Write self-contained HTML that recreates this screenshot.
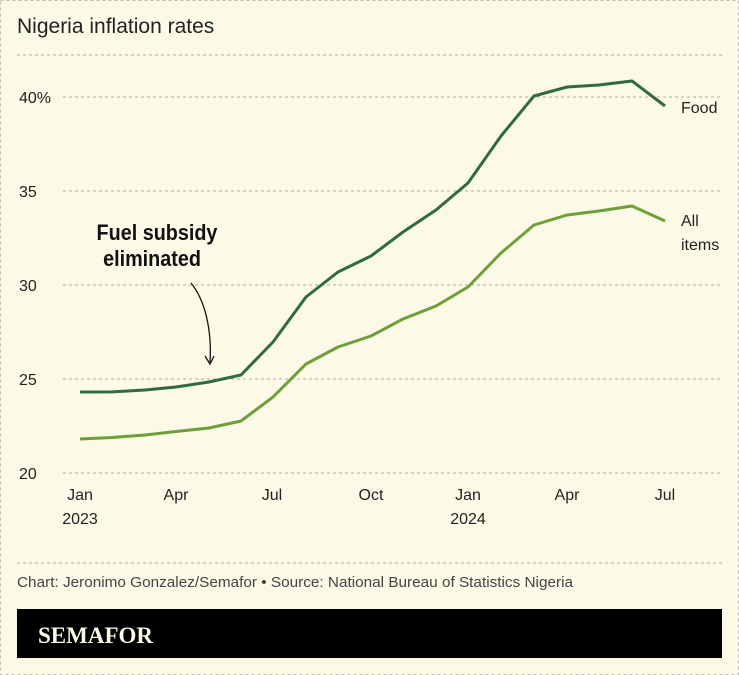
<!DOCTYPE html>
<html><head><meta charset="utf-8"><style>
body{margin:0;background:#fcf9e6;}
svg{display:block;font-family:"Liberation Sans",sans-serif;}
</style></head><body>
<svg width="739" height="675" viewBox="0 0 739 675" xmlns="http://www.w3.org/2000/svg">
<rect x="0.5" y="0.5" width="738" height="674" fill="#fcf9e6" stroke="#bbb" stroke-dasharray="3,3"/>
<text x="17" y="33" font-size="21" fill="#222">Nigeria inflation rates</text>
<g stroke="#aaa" stroke-dasharray="3,3" stroke-width="1">
<line x1="17" y1="55" x2="722" y2="55"/>
<line x1="63" y1="97" x2="722" y2="97"/>
<line x1="63" y1="191" x2="722" y2="191"/>
<line x1="63" y1="285" x2="722" y2="285"/>
<line x1="63" y1="379" x2="722" y2="379"/>
<line x1="63" y1="473" x2="722" y2="473"/>
<line x1="17" y1="563" x2="722" y2="563"/>
</g>
<g font-size="16" fill="#222">
<text x="19" y="103">40%</text>
<text x="19" y="197">35</text>
<text x="19" y="291">30</text>
<text x="19" y="385">25</text>
<text x="19" y="479">20</text>
</g>
<g font-size="16" fill="#222" text-anchor="middle">
<text x="80" y="500">Jan</text><text x="80" y="524">2023</text>
<text x="176" y="500">Apr</text>
<text x="272" y="500">Jul</text>
<text x="371" y="500">Oct</text>
<text x="468" y="500">Jan</text><text x="468" y="524">2024</text>
<text x="567" y="500">Apr</text>
<text x="665" y="500">Jul</text>
</g>
<polyline fill="none" stroke="#2f6b3c" stroke-width="3" stroke-linejoin="round" points="80,392 112,391.9 145,390 176,387 209,382 241,375 273,342 306,297 338,272 371,256 403,232 436,210 468,183 501,136 534,96 567,87 599,85 632,81 665,106"/>
<polyline fill="none" stroke="#6e9f3a" stroke-width="3" stroke-linejoin="round" points="80,439 112,437.5 145,435 176,431.5 209,428 241,421 273,397 306,364 338,347 371,336 403,319 436,306 468,287 501,253 534,225 567,215 599,211 632,206 665,221"/>
<text x="681" y="113" font-size="16" fill="#222">Food</text>
<text x="681" y="226" font-size="16" fill="#222">All</text>
<text x="681" y="250" font-size="16" fill="#222">items</text>
<text x="157" y="240" font-size="22" font-weight="bold" fill="#111" text-anchor="middle" transform="scale(0.9,1)" style="transform-origin:157px 0">Fuel subsidy</text>
<text x="152" y="266" font-size="22" font-weight="bold" fill="#111" text-anchor="middle" transform="scale(0.9,1)" style="transform-origin:152px 0">eliminated</text>
<path d="M191,283 C205,300 212,330 210,362" fill="none" stroke="#111" stroke-width="1.3"/>
<path d="M205,356 L210,364 L214,356" fill="none" stroke="#111" stroke-width="1.3"/>
<text x="17" y="587" font-size="15" fill="#444" textLength="556" lengthAdjust="spacingAndGlyphs">Chart: Jeronimo Gonzalez/Semafor • Source: National Bureau of Statistics Nigeria</text>
<rect x="17" y="609" width="705" height="49" fill="#000"/>
<text x="38" y="643" font-size="23" font-weight="bold" fill="#fcf9e6" font-family="Liberation Serif,serif">SEMAFOR</text>
</svg>
</body></html>
